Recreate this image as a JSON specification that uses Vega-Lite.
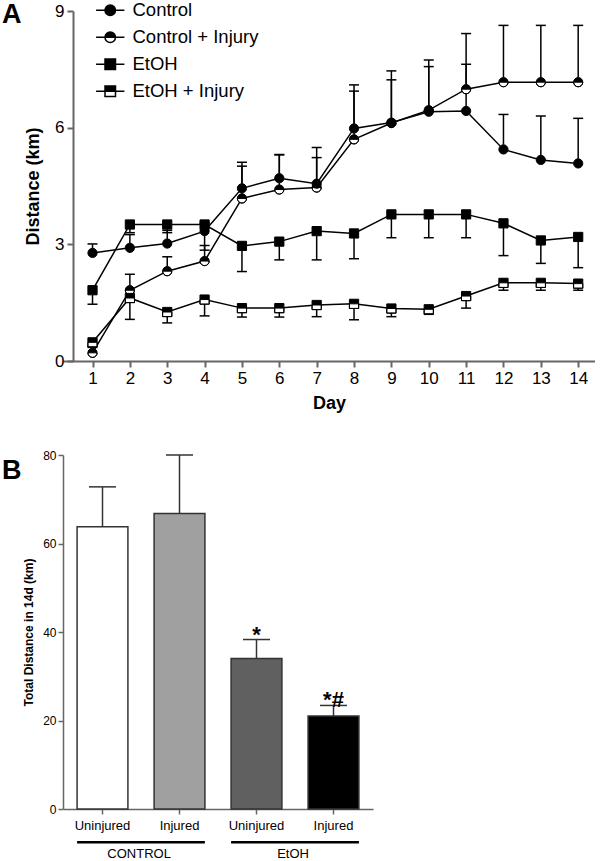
{
  "$schema": "https://vega.github.io/schema/vega-lite/v6.json",
  "background": "white",
  "padding": {"left": 2, "top": 1, "right": 0, "bottom": 0},
  "config": {
    "font": "Liberation Sans",
    "view": {"stroke": null},
    "axis": {"grid": false, "domainColor": "#666666", "tickColor": "#666666", "labelColor": "black", "titleColor": "black", "labelFont": "Liberation Sans", "titleFont": "Liberation Sans"}
  },
  "datasets": {
    "daily": [
      {"day": 1, "series": "Control", "mean": 2.78, "end": 3.01},
      {"day": 2, "series": "Control", "mean": 2.91, "end": 3.25},
      {"day": 3, "series": "Control", "mean": 3.02, "end": 3.36},
      {"day": 4, "series": "Control", "mean": 3.34, "end": 3.55},
      {"day": 5, "series": "Control", "mean": 4.44, "end": 5.11},
      {"day": 6, "series": "Control", "mean": 4.70, "end": 5.31},
      {"day": 7, "series": "Control", "mean": 4.56, "end": 5.49},
      {"day": 8, "series": "Control", "mean": 5.98, "end": 7.10},
      {"day": 9, "series": "Control", "mean": 6.13, "end": 7.46},
      {"day": 10, "series": "Control", "mean": 6.41, "end": 7.74},
      {"day": 11, "series": "Control", "mean": 6.43, "end": 7.63},
      {"day": 12, "series": "Control", "mean": 5.44, "end": 6.34},
      {"day": 13, "series": "Control", "mean": 5.17, "end": 6.30},
      {"day": 14, "series": "Control", "mean": 5.08, "end": 6.24},
      {"day": 1, "series": "Control + Injury", "mean": 0.21, "end": 0.35},
      {"day": 2, "series": "Control + Injury", "mean": 1.82, "end": 2.23},
      {"day": 3, "series": "Control + Injury", "mean": 2.31, "end": 2.68},
      {"day": 4, "series": "Control + Injury", "mean": 2.57, "end": 2.97},
      {"day": 5, "series": "Control + Injury", "mean": 4.18, "end": 5.01},
      {"day": 6, "series": "Control + Injury", "mean": 4.41, "end": 5.30},
      {"day": 7, "series": "Control + Injury", "mean": 4.46, "end": 5.23},
      {"day": 8, "series": "Control + Injury", "mean": 5.70, "end": 6.94},
      {"day": 9, "series": "Control + Injury", "mean": 6.12, "end": 7.23},
      {"day": 10, "series": "Control + Injury", "mean": 6.45, "end": 7.57},
      {"day": 11, "series": "Control + Injury", "mean": 6.99, "end": 8.42},
      {"day": 12, "series": "Control + Injury", "mean": 7.17, "end": 8.63},
      {"day": 13, "series": "Control + Injury", "mean": 7.17, "end": 8.63},
      {"day": 14, "series": "Control + Injury", "mean": 7.17, "end": 8.63},
      {"day": 1, "series": "EtOH", "mean": 1.82, "end": 1.46},
      {"day": 2, "series": "EtOH", "mean": 3.51, "end": 3.30},
      {"day": 3, "series": "EtOH", "mean": 3.51, "end": 3.30},
      {"day": 4, "series": "EtOH", "mean": 3.51, "end": 2.85},
      {"day": 5, "series": "EtOH", "mean": 2.96, "end": 2.30},
      {"day": 6, "series": "EtOH", "mean": 3.07, "end": 2.60},
      {"day": 7, "series": "EtOH", "mean": 3.34, "end": 2.60},
      {"day": 8, "series": "EtOH", "mean": 3.28, "end": 2.63},
      {"day": 9, "series": "EtOH", "mean": 3.77, "end": 3.17},
      {"day": 10, "series": "EtOH", "mean": 3.77, "end": 3.17},
      {"day": 11, "series": "EtOH", "mean": 3.77, "end": 3.17},
      {"day": 12, "series": "EtOH", "mean": 3.54, "end": 2.71},
      {"day": 13, "series": "EtOH", "mean": 3.10, "end": 2.51},
      {"day": 14, "series": "EtOH", "mean": 3.19, "end": 2.40},
      {"day": 1, "series": "EtOH + Injury", "mean": 0.48, "end": 0.38},
      {"day": 2, "series": "EtOH + Injury", "mean": 1.62, "end": 1.07},
      {"day": 3, "series": "EtOH + Injury", "mean": 1.26, "end": 0.98},
      {"day": 4, "series": "EtOH + Injury", "mean": 1.58, "end": 1.16},
      {"day": 5, "series": "EtOH + Injury", "mean": 1.36, "end": 1.13},
      {"day": 6, "series": "EtOH + Injury", "mean": 1.36, "end": 1.13},
      {"day": 7, "series": "EtOH + Injury", "mean": 1.44, "end": 1.14},
      {"day": 8, "series": "EtOH + Injury", "mean": 1.47, "end": 1.06},
      {"day": 9, "series": "EtOH + Injury", "mean": 1.35, "end": 1.14},
      {"day": 10, "series": "EtOH + Injury", "mean": 1.33, "end": 1.20},
      {"day": 11, "series": "EtOH + Injury", "mean": 1.67, "end": 1.36},
      {"day": 12, "series": "EtOH + Injury", "mean": 2.01, "end": 1.82},
      {"day": 13, "series": "EtOH + Injury", "mean": 2.01, "end": 1.82},
      {"day": 14, "series": "EtOH + Injury", "mean": 1.99, "end": 1.82}
    ],
    "totals": [
      {"key": "CONTROL Uninjured", "total": 63.8, "upper": 72.8, "note": ""},
      {"key": "CONTROL Injured", "total": 66.8, "upper": 80.0, "note": ""},
      {"key": "EtOH Uninjured", "total": 34.0, "upper": 38.3, "note": "*"},
      {"key": "EtOH Injured", "total": 21.0, "upper": 23.4, "note": "*#"}
    ],
    "groups": [
      {"treatment": "CONTROL", "first": "CONTROL Uninjured", "last": "CONTROL Injured"},
      {"treatment": "EtOH", "first": "EtOH Uninjured", "last": "EtOH Injured"}
    ]
  },
  "columns": 1,
  "spacing": 27,
  "resolve": {"scale": {"fill": "independent", "shape": "independent", "stroke": "independent"}, "legend": {"fill": "independent", "shape": "independent", "stroke": "independent"}},
  "concat": [
    {
      "width": 532,
      "height": 350,
      "title": {"text": "A", "anchor": "start", "frame": "group", "offset": -28, "dx": -61, "fontSize": 27, "fontWeight": "bold", "color": "black"},
      "data": {"name": "daily"},
      "resolve": {"scale": {"shape": "independent", "fill": "independent", "stroke": "independent"}, "legend": {"shape": "independent", "fill": "independent", "stroke": "independent"}},
      "encoding": {
        "x": {
          "field": "day", "type": "quantitative",
          "scale": {"domain": [0.21, 14.45], "nice": false, "zero": false},
          "axis": {"values": [1,2,3,4,5,6,7,8,9,10,11,12,13,14], "format": "d", "title": "Day", "labelFontSize": 17, "titleFontSize": 18, "titleFontWeight": "bold", "domainWidth": 2, "tickWidth": 2, "tickSize": 6, "labelPadding": 3, "titlePadding": 8}
        },
        "y": {
          "field": "mean", "type": "quantitative", "title": "Distance (km)",
          "scale": {"domain": [0, 9], "nice": false},
          "axis": {"offset": -10, "values": [0, 3, 6, 9], "labelFontSize": 17, "titleFontSize": 18, "titleFontWeight": "bold", "domainWidth": 2, "tickWidth": 2, "tickSize": 6, "labelPadding": 3, "titlePadding": 12}
        }
      },
      "layer": [
        {"mark": {"type": "rule", "color": "black", "strokeWidth": 1.5}, "encoding": {"y2": {"field": "end"}}},
        {"mark": {"type": "point", "shape": "stroke", "size": 100, "color": "black", "strokeWidth": 1.5, "filled": false, "opacity": 1}, "encoding": {"y": {"field": "end", "type": "quantitative", "title": "Distance (km)"}}},
        {"mark": {"type": "line", "color": "black", "strokeWidth": 1.5}, "encoding": {"detail": {"field": "series"}}},
        {"transform": [{"filter": "indexof(datum.series, 'Control') === 0"}], "mark": {"type": "point", "shape": "circle", "filled": true, "color": "white", "size": 85, "opacity": 1}},
        {"transform": [{"filter": "indexof(datum.series, 'EtOH') === 0"}], "mark": {"type": "point", "shape": "square", "filled": true, "color": "white", "size": 80, "opacity": 1}},
        {
          "mark": {"type": "point", "filled": true, "color": "black", "stroke": "black", "strokeWidth": 1, "size": 85, "opacity": 1},
          "encoding": {
            "shape": {
              "field": "series", "type": "nominal", "legend": null,
              "scale": {
                "domain": ["Control", "Control + Injury", "EtOH", "EtOH + Injury"],
                "range": ["circle", "M-1,0A1,1,0,1,1,1,0A1,1,0,1,1,-1,0ZM-1,0A1,1,0,0,0,1,0Z", "square", "M-1,-1L1,-1L1,1L-1,1ZM-1,0L-1,1L1,1L1,0Z"]
              }
            }
          }
        },
        {
          "mark": {"type": "point", "filled": true, "stroke": "black", "strokeWidth": 1.5, "opacity": 0, "size": 1},
          "encoding": {
            "shape": {
              "field": "series", "type": "nominal",
              "scale": {
                "domain": ["Control", "Control + Injury", "EtOH", "EtOH + Injury"],
                "range": [
                  "M-2.7,0L-1,0M1,0L2.7,0M-1,0A1,1,0,1,1,1,0A1,1,0,1,1,-1,0Z",
                  "M-2.7,0L-1,0M1,0L2.7,0M-1,0A1,1,0,1,1,1,0A1,1,0,1,1,-1,0ZM-1,0A1,1,0,0,0,1,0Z",
                  "M-2.7,0L-1,0M1,0L2.7,0M-1,-1L1,-1L1,1L-1,1Z",
                  "M-2.7,0L-1,0M1,0L2.7,0M-1,-1L1,-1L1,1L-1,1ZM-1,0L-1,1L1,1L1,0Z"
                ]
              },
              "legend": {
                "title": null, "orient": "none", "legendX": 38, "legendY": -10,
                "labelFontSize": 18.5, "labelFont": "Liberation Sans", "labelColor": "black",
                "symbolSize": 110, "symbolStrokeWidth": 1.5, "symbolOpacity": 1,
                "rowPadding": 8, "labelOffset": 13
              }
            },
            "fill": {
              "field": "series", "type": "nominal",
              "scale": {
                "domain": ["Control", "Control + Injury", "EtOH", "EtOH + Injury"],
                "range": ["black", "black", "black", "black"]
              },
              "legend": {
                "title": null, "orient": "none", "legendX": 38, "legendY": -10,
                "labelFontSize": 18.5, "labelFont": "Liberation Sans", "labelColor": "black",
                "symbolSize": 110, "symbolStrokeWidth": 1.5, "symbolOpacity": 1,
                "rowPadding": 8, "labelOffset": 13
              }
            },
            "stroke": {
              "field": "series", "type": "nominal",
              "scale": {
                "domain": ["Control", "Control + Injury", "EtOH", "EtOH + Injury"],
                "range": ["black", "black", "black", "black"]
              },
              "legend": {
                "title": null, "orient": "none", "legendX": 38, "legendY": -10,
                "labelFontSize": 18.5, "labelFont": "Liberation Sans", "labelColor": "black",
                "symbolSize": 110, "symbolStrokeWidth": 1.5, "symbolOpacity": 1,
                "rowPadding": 8, "labelOffset": 13
              }
            }
          }
        }
      ]
    },
    {
      "width": 310,
      "height": 354,
      "title": {"text": "B", "anchor": "start", "frame": "group", "offset": -46, "dx": -61, "fontSize": 27, "fontWeight": "bold", "color": "black"},
      "layer": [
        {
          "data": {"name": "totals"},
          "mark": {"type": "bar", "stroke": "#333333", "strokeWidth": 1.5},
          "encoding": {
            "x": {"field": "key", "type": "nominal", "title": null,
              "scale": {"domain": ["CONTROL Uninjured", "CONTROL Injured", "EtOH Uninjured", "EtOH Injured"], "paddingInner": 0.34, "paddingOuter": 0.183},
              "axis": {"labelExpr": "split(datum.label, ' ')[1]", "labelAngle": 0, "labelFontSize": 13, "labelPadding": 5, "tickSize": 5, "domainWidth": 1.5, "tickWidth": 1.5}},
            "y": {"field": "total", "type": "quantitative", "title": "Total Distance in 14d (km)",
              "scale": {"domain": [0, 80], "nice": false},
              "axis": {"values": [0, 20, 40, 60, 80], "labelFontSize": 12, "titleFontSize": 12, "titleFontWeight": "bold", "titlePadding": 7, "tickSize": 5, "domainWidth": 1.5, "tickWidth": 1.5, "labelPadding": 2}},
            "fill": {"field": "key", "type": "nominal", "legend": null,
              "scale": {"domain": ["CONTROL Uninjured", "CONTROL Injured", "EtOH Uninjured", "EtOH Injured"], "range": ["#ffffff", "#a0a0a0", "#606060", "#000000"]}}
          }
        },
        {
          "data": {"name": "totals"},
          "mark": {"type": "rule", "color": "#333333", "strokeWidth": 1.5},
          "encoding": {
            "x": {"field": "key", "type": "nominal", "title": null},
            "y": {"field": "total", "type": "quantitative", "title": "Total Distance in 14d (km)"},
            "y2": {"field": "upper"}
          }
        },
        {
          "data": {"name": "totals"},
          "mark": {"type": "point", "shape": "stroke", "size": 729, "color": "#333333", "strokeWidth": 1.5, "filled": false, "opacity": 1},
          "encoding": {
            "x": {"field": "key", "type": "nominal", "title": null},
            "y": {"field": "upper", "type": "quantitative", "title": "Total Distance in 14d (km)"}
          }
        },
        {
          "data": {"name": "totals"},
          "mark": {"type": "text", "fontSize": 22, "fontWeight": "bold", "baseline": "bottom", "dy": 7, "color": "black"},
          "encoding": {
            "x": {"field": "key", "type": "nominal", "title": null},
            "y": {"field": "upper", "type": "quantitative", "title": "Total Distance in 14d (km)"},
            "text": {"field": "note"}
          }
        },
        {
          "data": {"name": "groups"},
          "mark": {"type": "rule", "color": "black", "strokeWidth": 2.5},
          "encoding": {
            "x": {"field": "first", "type": "nominal", "bandPosition": 0, "title": null},
            "x2": {"field": "last", "bandPosition": 1},
            "y": {"datum": -7.5, "type": "quantitative", "title": "Total Distance in 14d (km)"}
          }
        },
        {
          "data": {"name": "groups"},
          "mark": {"type": "text", "fontSize": 13, "baseline": "middle", "color": "black"},
          "encoding": {
            "x": {"field": "first", "type": "nominal", "bandPosition": 1.22, "title": null},
            "y": {"datum": -10.2, "type": "quantitative", "title": "Total Distance in 14d (km)"},
            "text": {"field": "treatment"}
          }
        }
      ]
    }
  ]
}
